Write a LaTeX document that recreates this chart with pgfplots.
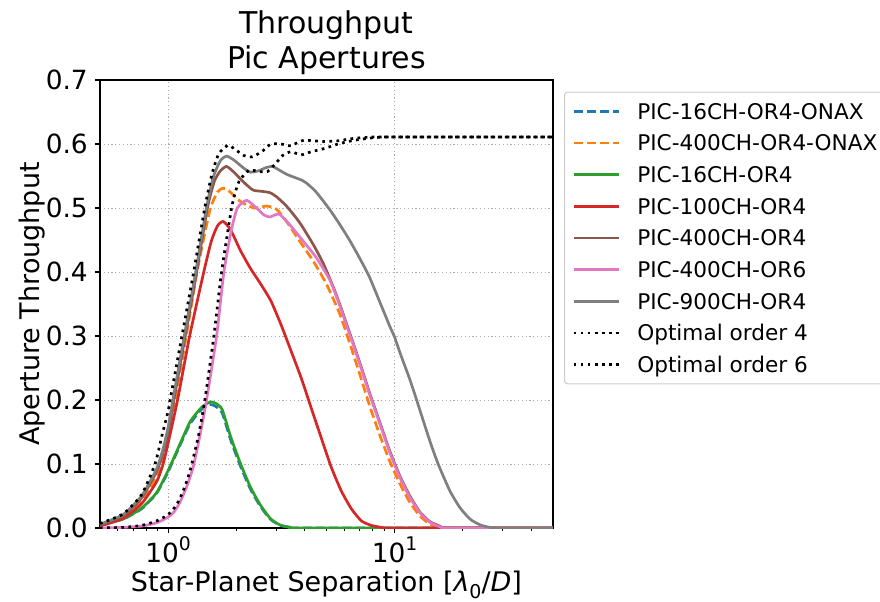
\documentclass[border=0pt]{standalone}
\usepackage{fontspec}
\setmainfont{DejaVu Sans}
\usepackage{pgfplots}
\pgfplotsset{compat=1.18}
\definecolor{cBlue}{HTML}{1F77B4}
\definecolor{cOrange}{HTML}{FF7F0E}
\definecolor{cGreen}{HTML}{2CA02C}
\definecolor{cRed}{HTML}{D62728}
\definecolor{cBrown}{HTML}{8C564B}
\definecolor{cPink}{HTML}{E377C2}
\definecolor{cGrey}{HTML}{7F7F7F}
\begin{document}
\begin{tikzpicture}
\begin{axis}[
  at={(0,0)}, anchor=south west,
  scale only axis, width=226.5pt, height=224pt,
  xmode=log, log basis x=10,
  xmin=0.5, xmax=50, ymin=0, ymax=0.7,
  xtick={1,10},
  xticklabels={{10\raisebox{0.45em}{\fontsize{9.4}{10}\selectfont 0}},{10\raisebox{0.45em}{\fontsize{9.4}{10}\selectfont 1}}},
  minor xtick={0.6,0.7,0.8,0.9,2,3,4,5,6,7,8,9,20,30,40},
  ytick={0,0.1,0.2,0.3,0.4,0.5,0.6,0.7},
  /pgf/number format/assume math mode=true,
  yticklabel style={/pgf/number format/fixed, /pgf/number format/fixed zerofill, /pgf/number format/precision=1},
  ticklabel style={font=\fontsize{13.2}{15}\selectfont},
  xticklabel style={inner sep=1.5pt},
  tick align=outside, tick pos=left,
  major tick length=2.6pt, minor tick length=1.5pt,
  every tick/.style={black, line width=0.55pt},
  minor tick style={line width=0.45pt},
  axis line style={line width=0.6pt},
  grid=major,
  major grid style={black!32, line width=0.5pt, dash pattern=on 0.6pt off 1.3pt},
  title={Throughput\\Pic Apertures},
  title style={at={(axis description cs:0.5,1)}, anchor=south, inner sep=0pt, yshift=-3.5pt, align=center, font=\fontsize{15}{17.5}\selectfont},
  xlabel={Star-Planet Separation [{\itshape λ}\raisebox{-0.25em}{\fontsize{9.5}{10}\selectfont 0}/{\itshape D}]},
  xlabel style={at={(axis description cs:0.5,-0.1425)}, anchor=base, font=\fontsize{13.5}{16}\selectfont},
  ylabel={Aperture Throughput},
  ylabel style={at={(axis description cs:-0.1325,0.5)}, anchor=base, font=\fontsize{13.5}{16}\selectfont},
  every axis plot/.append style={no markers, line width=1.35pt, line join=round, smooth, tension=0.35},
  legend cell align=left,
  legend image code/.code={\draw[#1, sharp plot] (0pt,0pt) -- (22.8pt,0pt); \path (30.7pt,0pt);},
  legend style={at={(axis description cs:1.0243,0.974)}, anchor=north west,
    draw=black!20, line width=0.5pt, rounded corners=1.5pt, fill=white,
    inner sep=3.85pt, row sep=4.37pt,
    font=\fontsize{10.8}{13}\selectfont,
    nodes={inner sep=0.5pt, text height=9.1pt, text depth=1.36pt}},
]
% PIC-16CH-OR4-ONAX
\addplot[cBlue, dash pattern=on 4.6pt off 2pt] coordinates {
(0.5,0.005) (0.633,0.014) (0.763,0.030) (0.888,0.054) (1.0,0.088) (1.13,0.130)
(1.25,0.163) (1.4,0.185) (1.53,0.193) (1.62,0.190) (1.732,0.180) (1.886,0.138)
(2.089,0.096) (2.314,0.060) (2.564,0.033) (2.84,0.013) (3.147,0.004) (3.485,0.001)
(4,0) (50,0)};
\addlegendentry{PIC-16CH-OR4-ONAX}
% PIC-400CH-OR4-ONAX
\addplot[cOrange, dash pattern=on 4.6pt off 2pt] coordinates {
(0.5,0.004) (0.633,0.016) (0.763,0.042) (0.888,0.080) (0.95,0.108) (1.0,0.137)
(1.074,0.2) (1.202,0.3) (1.341,0.4) (1.45,0.46) (1.537,0.5) (1.65,0.525)
(1.75,0.531) (1.85,0.527) (2.09,0.510) (2.39,0.500) (2.72,0.503) (3.01,0.498)
(3.33,0.479) (3.81,0.448) (4.37,0.417) (5.0,0.381) (5.73,0.334) (6.34,0.288)
(7.02,0.240) (7.77,0.190) (8.6,0.145) (9.52,0.104) (10.55,0.069) (11.67,0.040)
(12.92,0.019) (14.3,0.006) (15.83,0.001) (18,0) (50,0)};
\addlegendentry{PIC-400CH-OR4-ONAX}
% PIC-16CH-OR4
\addplot[cGreen] coordinates {
(0.5,0.005) (0.633,0.014) (0.763,0.031) (0.888,0.055) (1.0,0.090) (1.13,0.132)
(1.25,0.166) (1.4,0.188) (1.53,0.197) (1.62,0.195) (1.732,0.185) (1.886,0.143)
(2.089,0.100) (2.314,0.063) (2.564,0.035) (2.84,0.014) (3.147,0.004) (3.485,0.001)
(4,0) (50,0)};
\addlegendentry{PIC-16CH-OR4}
% PIC-100CH-OR4
\addplot[cRed] coordinates {
(0.5,0.003) (0.633,0.015) (0.763,0.038) (0.888,0.072) (0.95,0.100) (1.0,0.133)
(1.10,0.2) (1.244,0.3) (1.436,0.4) (1.55,0.448) (1.65,0.472) (1.75,0.479)
(1.886,0.466) (2.089,0.433) (2.314,0.405) (2.564,0.381) (2.84,0.355) (3.147,0.318)
(3.485,0.277) (3.862,0.235) (4.277,0.188) (4.738,0.141) (5.248,0.095) (5.81,0.058)
(6.44,0.030) (7.135,0.011) (7.9,0.004) (8.75,0.001) (10,0) (50,0)};
\addlegendentry{PIC-100CH-OR4}
% PIC-400CH-OR4
\addplot[cBrown] coordinates {
(0.5,0.005) (0.633,0.019) (0.763,0.047) (0.888,0.088) (0.95,0.118) (1.0,0.150)
(1.06,0.2) (1.19,0.3) (1.335,0.4) (1.49,0.5) (1.6,0.542) (1.7,0.558)
(1.81,0.565) (1.95,0.556) (2.16,0.540) (2.37,0.528) (2.6,0.526) (2.81,0.524)
(3.0,0.518) (3.33,0.503) (3.81,0.477) (4.37,0.443) (4.83,0.414) (5.35,0.377)
(5.73,0.349) (6.34,0.304) (7.02,0.258) (7.77,0.210) (8.6,0.165) (9.52,0.120)
(10.55,0.081) (11.67,0.050) (12.92,0.025) (14.3,0.010) (15.83,0.003) (17.5,0) (50,0)};
\addlegendentry{PIC-400CH-OR4}
% PIC-400CH-OR6
\addplot[cPink] coordinates {
(0.5,0.0) (0.633,0.001) (0.763,0.003) (0.888,0.008) (1.0,0.017) (1.06,0.025)
(1.126,0.040) (1.205,0.064) (1.289,0.095) (1.38,0.144) (1.477,0.2) (1.636,0.3)
(1.762,0.4) (1.9,0.465) (2.02,0.5) (2.22,0.512) (2.455,0.500) (2.65,0.489)
(2.81,0.486) (3.0,0.490) (3.11,0.490) (3.44,0.474) (3.95,0.448) (4.52,0.422)
(5.18,0.387) (5.73,0.347) (6.34,0.302) (7.02,0.256) (7.77,0.208) (8.6,0.163)
(9.52,0.118) (10.55,0.079) (11.67,0.048) (12.92,0.024) (14.3,0.009) (15.83,0.002)
(17.5,0) (50,0)};
\addlegendentry{PIC-400CH-OR6}
% PIC-900CH-OR4
\addplot[cGrey] coordinates {
(0.5,0.006) (0.633,0.021) (0.763,0.050) (0.888,0.092) (0.95,0.124) (1.0,0.158)
(1.049,0.2) (1.178,0.3) (1.323,0.4) (1.475,0.5) (1.58,0.548) (1.7,0.574)
(1.81,0.581) (1.95,0.575) (2.16,0.562) (2.31,0.556) (2.5,0.558) (2.7,0.563)
(2.89,0.565) (3.1,0.559) (3.37,0.552) (3.86,0.544) (4.08,0.539) (4.42,0.528)
(4.67,0.518) (5.18,0.497) (5.73,0.474) (6.34,0.449) (7.02,0.421) (7.72,0.393)
(8.6,0.353) (9.52,0.315) (10,0.298) (10.55,0.274) (11.67,0.232) (12.5,0.200)
(14.3,0.136) (15.56,0.100) (17.53,0.058) (19.4,0.032) (21.5,0.014) (23.8,0.005)
(26.3,0.001) (30,0) (50,0)};
\addlegendentry{PIC-900CH-OR4}
% Optimal order 4
\addplot[black, dash pattern=on 1.35pt off 2.2pt] coordinates {
(0.5,0.007) (0.633,0.022) (0.763,0.052) (0.875,0.100) (0.938,0.144) (1.0,0.183)
(1.02,0.2) (1.15,0.3) (1.296,0.4) (1.45,0.5) (1.563,0.554) (1.674,0.585)
(1.835,0.598) (1.95,0.593) (2.16,0.582) (2.355,0.580) (2.609,0.589) (2.84,0.600)
(3.147,0.600) (3.485,0.597) (3.75,0.603) (3.994,0.606) (4.352,0.605) (4.9,0.604)
(5.62,0.605) (6.66,0.609) (8.17,0.611) (12,0.611) (50,0.611)};
\addlegendentry{Optimal order 4}
% Optimal order 6
\addplot[black, dash pattern=on 1.35pt off 2.2pt] coordinates {
(0.5,0.0) (0.633,0.001) (0.763,0.004) (0.888,0.011) (1.0,0.021) (1.088,0.036)
(1.165,0.058) (1.246,0.088) (1.36,0.144) (1.452,0.2) (1.591,0.3) (1.721,0.4)
(1.905,0.5) (2.0,0.530) (2.073,0.544) (2.275,0.559) (2.52,0.557) (2.746,0.557)
(2.99,0.570) (3.2,0.582) (3.485,0.588) (3.86,0.583) (4.28,0.588) (4.9,0.593)
(5.62,0.600) (6.44,0.605) (7.64,0.609) (9.0,0.611) (12,0.611) (50,0.611)};
\addlegendentry{Optimal order 6}
\end{axis}
\pgfresetboundingbox
\path (-50pt,-36.5pt) rectangle (390pt,264pt);
\end{tikzpicture}
\end{document}
